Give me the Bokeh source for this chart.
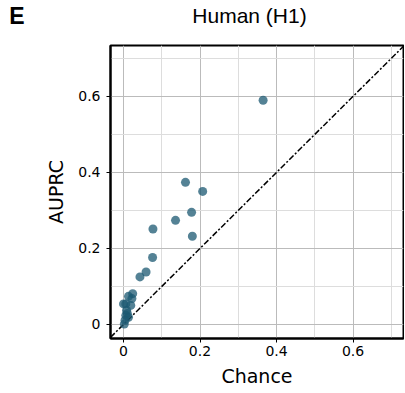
from bokeh.plotting import figure
from bokeh.layouts import column
from bokeh.models import FixedTicker, Range1d, ColumnDataSource
from bokeh.core.properties import value
from bokeh.embed import file_html
from bokeh.resources import INLINE

chance = [0.365, 0.162, 0.207, 0.178, 0.136, 0.077, 0.180, 0.076, 0.059, 0.043,
          0.024, 0.013, 0.022, 0.006, 0.019, 0.000, 0.008, 0.010, 0.006, 0.013,
          0.004, 0.002]
auprc = [0.590, 0.374, 0.350, 0.295, 0.274, 0.251, 0.232, 0.176, 0.138, 0.125,
         0.081, 0.074, 0.068, 0.054, 0.050, 0.054, 0.037, 0.029, 0.024, 0.019,
         0.011, 0.001]
major_ticks = [0, 0.2, 0.4, 0.6]
minor_ticks = [0.1, 0.3, 0.5, 0.7]
tick_labels = {0: "0", 0.2: "0.2", 0.4: "0.4", 0.6: "0.6"}
diag = [-0.034, 0.732]
title_text = "Human (H1)"
panel_letter = "E"

W = 404
TOP_H = 30
LEFT = 110
RIGHT = 1

# header strip: its frame is aligned with the main frame (pixel units inside)
head = figure(width=W, height=TOP_H, output_backend="svg", toolbar_location=None,
              x_range=Range1d(LEFT, W - RIGHT), y_range=Range1d(0, TOP_H),
              x_axis_location=None, y_axis_location="left",
              min_border_left=LEFT, min_border_right=RIGHT,
              min_border_top=0, min_border_bottom=0)
head.outline_line_color = None
head.xgrid.visible = False
head.ygrid.visible = False
head.background_fill_color = "white"
head.border_fill_color = "white"
hy = head.yaxis[0]
hy.ticker = FixedTicker(ticks=[])
hy.axis_line_color = None
hy.major_tick_line_color = None
hy.minor_tick_line_color = None
hy.major_label_text_font_size = "0px"
hy.axis_label = panel_letter
hy.axis_label_orientation = "horizontal"
hy.axis_label_standoff = 86
hy.axis_label_text_font = "Liberation Sans"
hy.axis_label_text_font_style = "bold"
hy.axis_label_text_font_size = "23px"
hy.axis_label_text_color = "black"
head.text(x=[249], y=[TOP_H - 15], text=[title_text],
          text_font=value("Liberation Sans"), text_font_size="21px",
          text_align="center", text_baseline="middle", text_color="black")

p = figure(width=W, height=392 - TOP_H, output_backend="svg", toolbar_location=None,
           x_range=Range1d(-0.034, 0.732), y_range=Range1d(-0.037, 0.734),
           min_border_left=LEFT, min_border_right=RIGHT, min_border_top=45 - TOP_H,
           min_border_bottom=54)
p.background_fill_color = "white"
p.border_fill_color = "white"
p.outline_line_color = "black"
p.outline_line_width = 2

for ax in (p.xaxis, p.yaxis):
    ax.ticker = FixedTicker(ticks=major_ticks, minor_ticks=minor_ticks)
    ax.major_label_overrides = tick_labels
    ax.minor_tick_line_color = None
    ax.major_tick_line_color = "black"
    ax.major_tick_in = 0
    ax.major_tick_out = 4
    ax.axis_line_color = "black"
    ax.axis_line_width = 2
    ax.major_label_text_font = "DejaVu Sans"
    ax.major_label_text_font_size = "14px"
    ax.major_label_text_color = "black"
    ax.axis_label_text_font = "DejaVu Sans"
    ax.axis_label_text_font_size = "19px"
    ax.axis_label_text_font_style = "normal"
    ax.axis_label_text_color = "black"

p.xaxis.axis_label = "Chance"
p.yaxis.axis_label = "AUPRC"
p.xaxis.major_label_standoff = 3
p.yaxis.major_label_standoff = 6
p.xaxis.axis_label_standoff = 6
p.yaxis.axis_label_standoff = 8

for g in (p.xgrid, p.ygrid):
    g.grid_line_color = "#bbbbbb"
    g.grid_line_width = 1
    g.minor_grid_line_color = "#dddddd"
    g.minor_grid_line_width = 1

p.line(diag, diag, line_color="black", line_width=1.5, line_dash="6 2 2 2")

src = ColumnDataSource(dict(x=chance, y=auprc))
p.scatter("x", "y", source=src, size=9, fill_color="#1b5872", fill_alpha=0.75,
          line_color=None)

layout = column(head, p, spacing=0)
open("out.html", "w").write(file_html(layout, INLINE))
